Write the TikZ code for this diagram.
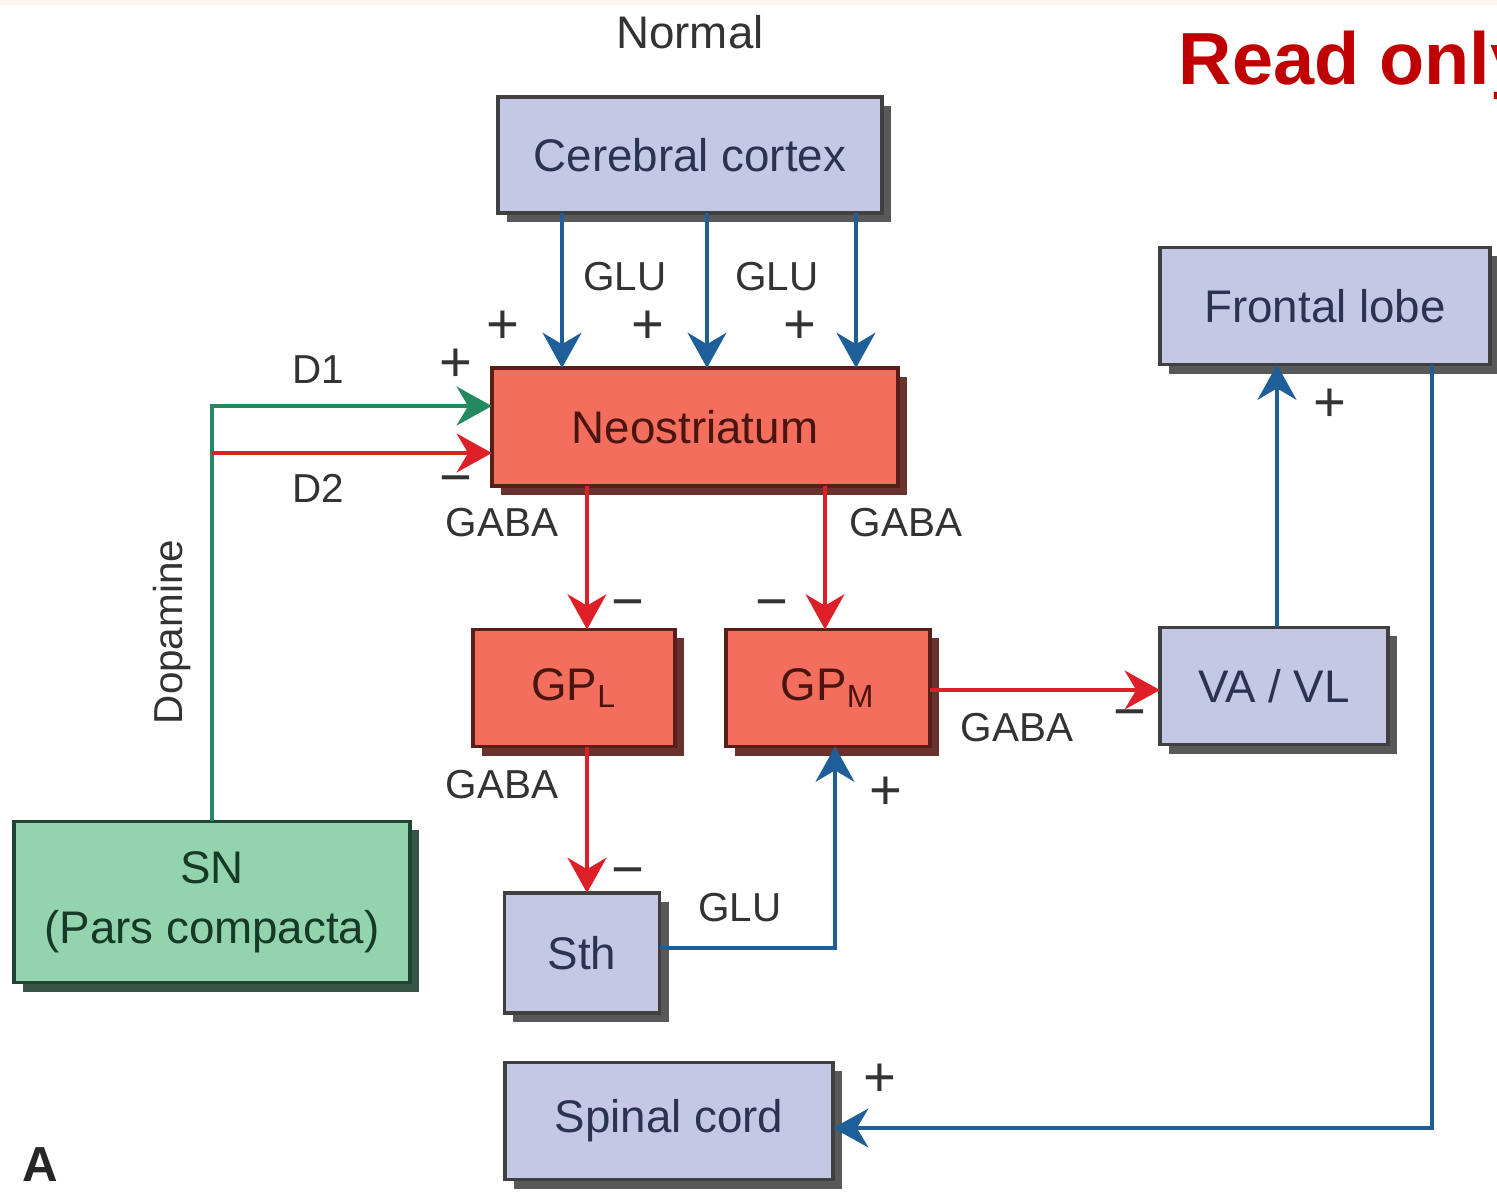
\documentclass[tikz,border=0pt]{standalone}
\usepackage{fontspec}
\setmainfont{Liberation Sans}
\usetikzlibrary{arrows.meta,shadows}

\definecolor{boxblue}{HTML}{C4C8E4}
\definecolor{boxred}{HTML}{F36E5C}
\definecolor{boxgreen}{HTML}{93D4AF}
\definecolor{lineblue}{HTML}{1E5F9A}
\definecolor{linered}{HTML}{DD1F28}
\definecolor{linegreen}{HTML}{23895E}
\definecolor{readred}{HTML}{C00000}
\definecolor{labelgray}{HTML}{333333}

\begin{document}
\begin{tikzpicture}[x=0.01cm,y=-0.01cm,>={Stealth[length=10pt,width=11pt]},
  box/.style={draw,line width=1pt,inner sep=0pt,outer sep=0pt,align=center,font=\fontsize{13}{17}\selectfont},
  blue box/.style={box,fill=boxblue,draw=black!75,text={rgb,255:red,43;green,51;blue,80},drop shadow={shadow xshift=0.09cm,shadow yshift=-0.09cm,opacity=1,fill=black!65}},
  red box/.style={box,fill=boxred,draw={rgb,255:red,90;green,30;blue,25},text={rgb,255:red,74;green,21;blue,16},drop shadow={shadow xshift=0.09cm,shadow yshift=-0.09cm,opacity=1,fill={rgb,255:red,105;green,50;blue,45}}},
  green box/.style={box,fill=boxgreen,draw={rgb,255:red,30;green,70;blue,50},text={rgb,255:red,22;green,58;blue,40},drop shadow={shadow xshift=0.09cm,shadow yshift=-0.09cm,opacity=1,fill={rgb,255:red,55;green,85;blue,70}}},
  lab/.style={font=\fontsize{11.5}{13}\selectfont,text=labelgray},
  sign/.style={font=\fontsize{16}{16}\selectfont,text=labelgray},
  blue line/.style={->,draw=lineblue,line width=1.4pt},
  red line/.style={->,draw=linered,line width=1.4pt},
  green line/.style={->,draw=linegreen,line width=1.4pt}]

  \useasboundingbox (0,0) rectangle (1497,1193);
  \clip (0,0) rectangle (1497,1193);
  \fill[orange!8] (0,0) rectangle (1497,5);

  % boxes
  \node[blue box,minimum width=3.84cm,minimum height=1.16cm] (cortex) at (690,155) {Cerebral cortex};
  \node[blue box,minimum width=3.30cm,minimum height=1.17cm] (frontal) at (1325,306) {Frontal lobe};
  \node[red box,minimum width=4.06cm,minimum height=1.18cm] (neo) at (695,427) {Neostriatum};
  \node[red box,minimum width=2.02cm,minimum height=1.17cm] (gpl) at (574,688) {GP\textsubscript{L}};
  \node[red box,minimum width=2.04cm,minimum height=1.17cm] (gpm) at (828,688) {GP\textsubscript{M}};
  \node[blue box,minimum width=2.28cm,minimum height=1.17cm] (vavl) at (1274,686) {VA / VL};
  \node[green box,minimum width=3.96cm,minimum height=1.61cm] (sn) at (212,902) {SN\\(Pars compacta)};
  \node[blue box,minimum width=1.55cm,minimum height=1.20cm] (sth) at (582,953) {Sth};
  \node[blue box,minimum width=3.28cm,minimum height=1.17cm] (spinal) at (669,1121) {Spinal cord};

  % connectors
  \foreach \xx in {562,707,856}
    \draw[blue line] (cortex.south -| \xx,0) -- (neo.north -| \xx,0);
  \coordinate (d2) at (212,453);
  \draw[green line] (sn.north) |- (neo.west |- 0,406);
  \draw[red line] (d2) -- (neo.west |- d2);
  \draw[red line] (neo.south -| 587,0) -- (gpl.north -| 587,0);
  \draw[red line] (neo.south -| 825,0) -- (gpm.north -| 825,0);
  \draw[red line] (gpm.east |- 0,690) -- (vavl.west |- 0,690);
  \draw[blue line] (vavl.north -| 1277,0) -- (frontal.south -| 1277,0);
  \draw[red line] (gpl.south -| 587,0) -- (sth.north -| 587,0);
  \draw[blue line] (sth.east |- 0,948) -| (gpm.south -| 835,0);
  \draw[blue line] (frontal.south -| 1432,0) |- (spinal.east |- 0,1128);

  % labels
  \node[font=\fontsize{13}{15}\selectfont,text=labelgray] (normal) at (690,32) {Normal};
  \node[anchor=base west,inner sep=0pt,font=\fontsize{21}{21}\selectfont\bfseries,text=readred] (readonly) at (1178,84) {Read only};
  \node[lab] (glu1) at (625,277) {GLU};
  \node[lab] (glu2) at (777,277) {GLU};
  \node[lab] (glu3) at (740,908) {GLU};
  \node[lab] (d1lab) at (318,370) {D1};
  \node[lab] (d2lab) at (318,488) {D2};
  \node[lab,rotate=90] (dopa) at (172,632) {Dopamine};
  \node[lab] (gaba1) at (502,523) {GABA};
  \node[lab] (gaba2) at (906,523) {GABA};
  \node[lab] (gaba3) at (502,785) {GABA};
  \node[lab] (gaba4) at (1017,728) {GABA};
  \node[sign] (p1) at (503,327) {+};
  \node[sign] (p2) at (648,327) {+};
  \node[sign] (p3) at (800,327) {+};
  \node[sign] (p4) at (456,365) {+};
  \node[sign] (p5) at (1330,405) {+};
  \node[sign] (p6) at (886,793) {+};
  \node[sign] (p7) at (880,1080) {+};
  \node[sign] (m1) at (456,486) {−};
  \node[sign] (m2) at (628,610) {−};
  \node[sign] (m3) at (772,610) {−};
  \node[sign] (m4) at (1130,720) {−};
  \node[sign] (m5) at (628,878) {−};
  \node[font=\fontsize{14}{14}\selectfont\bfseries,text=black!85] (panel) at (40,1165) {A};
\end{tikzpicture}
\end{document}
